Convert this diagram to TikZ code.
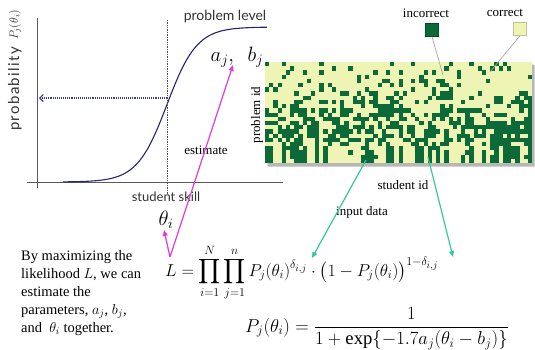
\documentclass[tikz,border=0pt]{standalone}
\usepackage{amsmath}
\usepackage{graphicx}
\usepackage{fontspec}
\setmainfont{Liberation Serif}
\newfontfamily\gill{Lato}
\newfontfamily\gillwide[LetterSpace=9]{Lato}
\usetikzlibrary{arrows.meta}
\definecolor{navy}{HTML}{23237A}
\definecolor{dotnavy}{HTML}{3A3AA8}
\definecolor{magentaA}{HTML}{E23ADB}
\definecolor{tealA}{HTML}{33C79C}
\definecolor{darkG}{HTML}{0C6A38}
\definecolor{lightG}{HTML}{EEF4B4}
\definecolor{axisG}{HTML}{5A5A5A}
\tikzset{
  sanslbl/.style={font=\gill\fontsize{13}{15}\selectfont, text=black!80, inner sep=0pt},
  seriflbl/.style={font=\fontsize{13}{15}\selectfont, inner sep=0pt},
  mathlbl/.style={font=\fontsize{20}{22}\selectfont, inner sep=0pt},
  formula/.style={font=\fontsize{17.28}{22}\selectfont, anchor=base west, inner sep=0pt},
  axisline/.style={axisG, line width=1pt},
  magarrow/.style={magentaA, line width=1.2pt, -{Triangle[length=6pt,width=5pt]}},
  tealarrow/.style={tealA, line width=1.2pt, -{Triangle[length=6pt,width=5pt]}},
  leader/.style={gray!70, line width=0.7pt},
  legendsq/.style={minimum size=13pt, inner sep=0pt},
}
\begin{document}
\begin{tikzpicture}[x=1pt,y=-1pt]
\useasboundingbox (0,0) rectangle (535,349);
\fill[white] (0,0) rectangle (535,349);

% ---------- IRT curve ----------
\draw[axisline] (27,182) -- (283,182);
\draw[axisline] (37,18) -- (37,188);
\draw[navy, line width=1.1pt] plot[domain=63:267, samples=90, smooth]
  (\x, {182-155/(1+exp(-0.067*(\x-167)))});
\draw[black!70, densely dotted, line width=0.7pt] (167,20) -- (167,194);
\coordinate (mid) at (167,98);
\coordinate (yax) at (39,98);
\draw[dotnavy, densely dotted, line width=1.1pt, -{Straight Barb[length=3.5pt,width=7pt]}] (mid) -- (yax);

\node[sanslbl, rotate=90, font=\gillwide\fontsize{15}{17}\selectfont] (prob) at (15,89) {probability};
\node[sanslbl, rotate=90, font=\fontsize{12}{14}\selectfont] (probP) at (15,25) {$P_j(\theta_i)$};
\node[sanslbl, font=\gill\fontsize{14}{16}\selectfont] (plevel) at (225,17) {problem level};
\node[sanslbl] (sskill) at (166,197) {student skill};
\node[seriflbl] (est) at (206,150) {estimate};
\node[mathlbl] (ab) at (237,57) {$a_j,\ \ b_j$};
\node[mathlbl] (theta) at (166,220) {$\theta_i$};

% ---------- response matrix ----------
\fill[black, opacity=0.18] (268,65) rectangle (535,167);
\fill[black, opacity=0.12] (267,64) rectangle (534,166);
\fill[lightG] (265,62) rectangle (532,163);
\pgfmathsetseed{23}
\foreach \r in {0,...,23}{
  \foreach \c in {0,...,63}{
    \pgfmathsetmacro{\h}{mod(abs(sin(\c*97.3+13))*1000,1)}
    \pgfmathsetmacro{\p}{\r<3 ? 0.08 : (\r<7 ? 0.15 : (\r<11 ? 0.3 : (\r<19 ? 0.52 : (\r<20 ? 0.42 : (\h>0.55 ? 0.88 : 0.07)))))}
    \pgfmathsetmacro{\q}{(\c==63 && \r>7) ? 0.97 : ((\c>54 && \r>13 && \r<20) ? 0.75 : \p)}
    \pgfmathtruncatemacro{\d}{rnd<\q ? 1 : 0}
    \ifnum\d=1
      \fill[darkG] ({265+\c*4.172},{62+\r*4.208}) rectangle ++(4.3,4.3);
    \fi
  }
}
\node[seriflbl, rotate=90] (pid) at (257,115) {problem id};
\node[seriflbl] (sid) at (403,185) {student id};

% legend
\node[seriflbl] (inc) at (426,13) {incorrect};
\node[seriflbl] (cor) at (505,13) {correct};
\node[legendsq, fill=darkG, draw=darkG!70!black] (incsq) at (432,30) {};
\node[legendsq, fill=lightG, draw=lightG!80!black] (corsq) at (520,29) {};
\coordinate (incpt) at (443,75);
\coordinate (corpt) at (490,72);
\draw[leader] (incsq.south) -- (incpt);
\draw[leader] (corsq.south) -- (corpt);

% ---------- formulas ----------
\node[formula] (Lform) at (165,276)
  {$\displaystyle L=\prod_{i=1}^{N}\prod_{j=1}^{n}P_j(\theta_i)^{\delta_{i,j}}\cdot\bigl(1-P_j(\theta_i)\bigr)^{1-\delta_{i,j}}$};
\node[formula] (Pform) at (245,332)
  {\scalebox{1.08}{$\displaystyle P_j(\theta_i)=\frac{1}{1+\exp\{-1.7a_j(\theta_i-b_j)\}}$}};

\node[font=\fontsize{14.5}{18}\selectfont, align=left, anchor=north west, inner sep=0pt] (para) at (21,250)
  {By maximizing the\\ likelihood $L$, we can\\ estimate the\\ parameters, $a_j$, $b_j$,\\ and \ $\theta_i$ together.};

\node[seriflbl] (indata) at (362,212) {input data};

% ---------- connectors ----------
\coordinate (Lv) at (170,257);
\coordinate (abtip) at (233,65);
\coordinate (thtip) at (164,230);
\draw[magarrow] (Lv) -- (abtip);
\draw[magarrow] (Lv) -- (thtip);

\coordinate (m1) at (366,160);
\coordinate (d1) at (312,258);
\coordinate (m2) at (428,157);
\coordinate (d2) at (453,257);
\draw[tealarrow] (m1) -- (d1);
\draw[tealarrow] (m2) -- (d2);
\end{tikzpicture}
\end{document}
